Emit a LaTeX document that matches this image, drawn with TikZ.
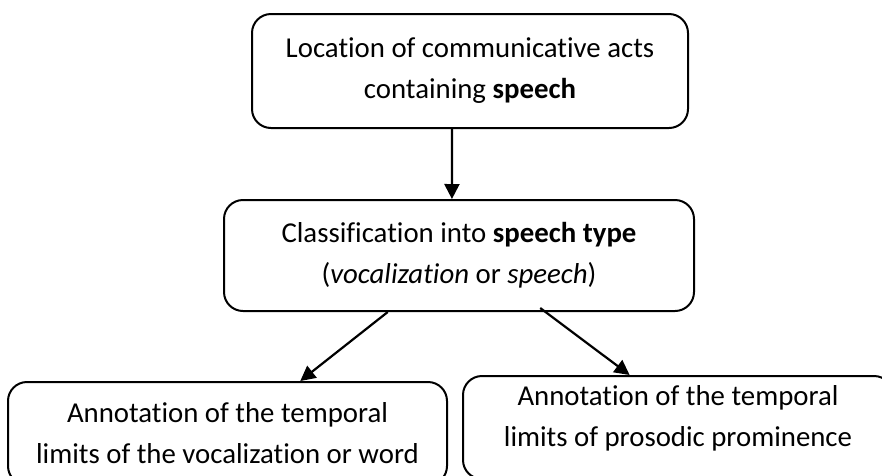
\documentclass[tikz,border=0pt]{standalone}
\usepackage{fontspec}
\setmainfont{Carlito}[Ligatures=NoCommon]
\usetikzlibrary{arrows.meta,calc}
\tikzset{
  stage box/.style={
    draw,
    line width=2pt,
    rounded corners=19pt,
    align=center,
    inner sep=0pt,
    font=\fontsize{28.8}{41}\selectfont,
  },
  flow arrow/.style={
    line width=2.2pt,
    -{Triangle[length=15pt,width=15pt]},
  }
}
\begin{document}
\begin{tikzpicture}[x=1pt,y=-1pt]
\path[use as bounding box,clip] (0,0) rectangle (882,475);

% the four stages
\node[stage box, minimum width=436pt, minimum height=114pt] (locate) at (470,71)
  {Location of communicative acts\\containing \textbf{speech}};
\node[stage box, minimum width=470pt, minimum height=111pt] (classify) at (459,255.5)
  {Classification into \textbf{speech type}\\(\textit{vocalization} or \textit{speech})};
\node[stage box, minimum width=439pt, text height=81pt, text depth=22pt, anchor=north] (vocal) at (227.5,381)
  {Annotation of the temporal\\limits of the vocalization or word};
\node[stage box, minimum width=430pt, text height=70pt, text depth=33pt, anchor=north] (prosody) at (678,375)
  {Annotation of the temporal\\limits of prosodic prominence};

% arrows
\draw[flow arrow] ($(locate.south west)!0.459!(locate.south east)$)
  -- ($(classify.north west)!0.485!(classify.north east)$);
\draw[flow arrow] ($(classify.south west)!0.349!(classify.south east)$)
  -- ($(vocal.north west)!0.665!(vocal.north east)$);
\draw[flow arrow] ($(classify.south west)!0.672!(classify.south east)+(0,-4)$)
  -- ($(prosody.north west)!0.388!(prosody.north east)$);

\end{tikzpicture}
\end{document}
